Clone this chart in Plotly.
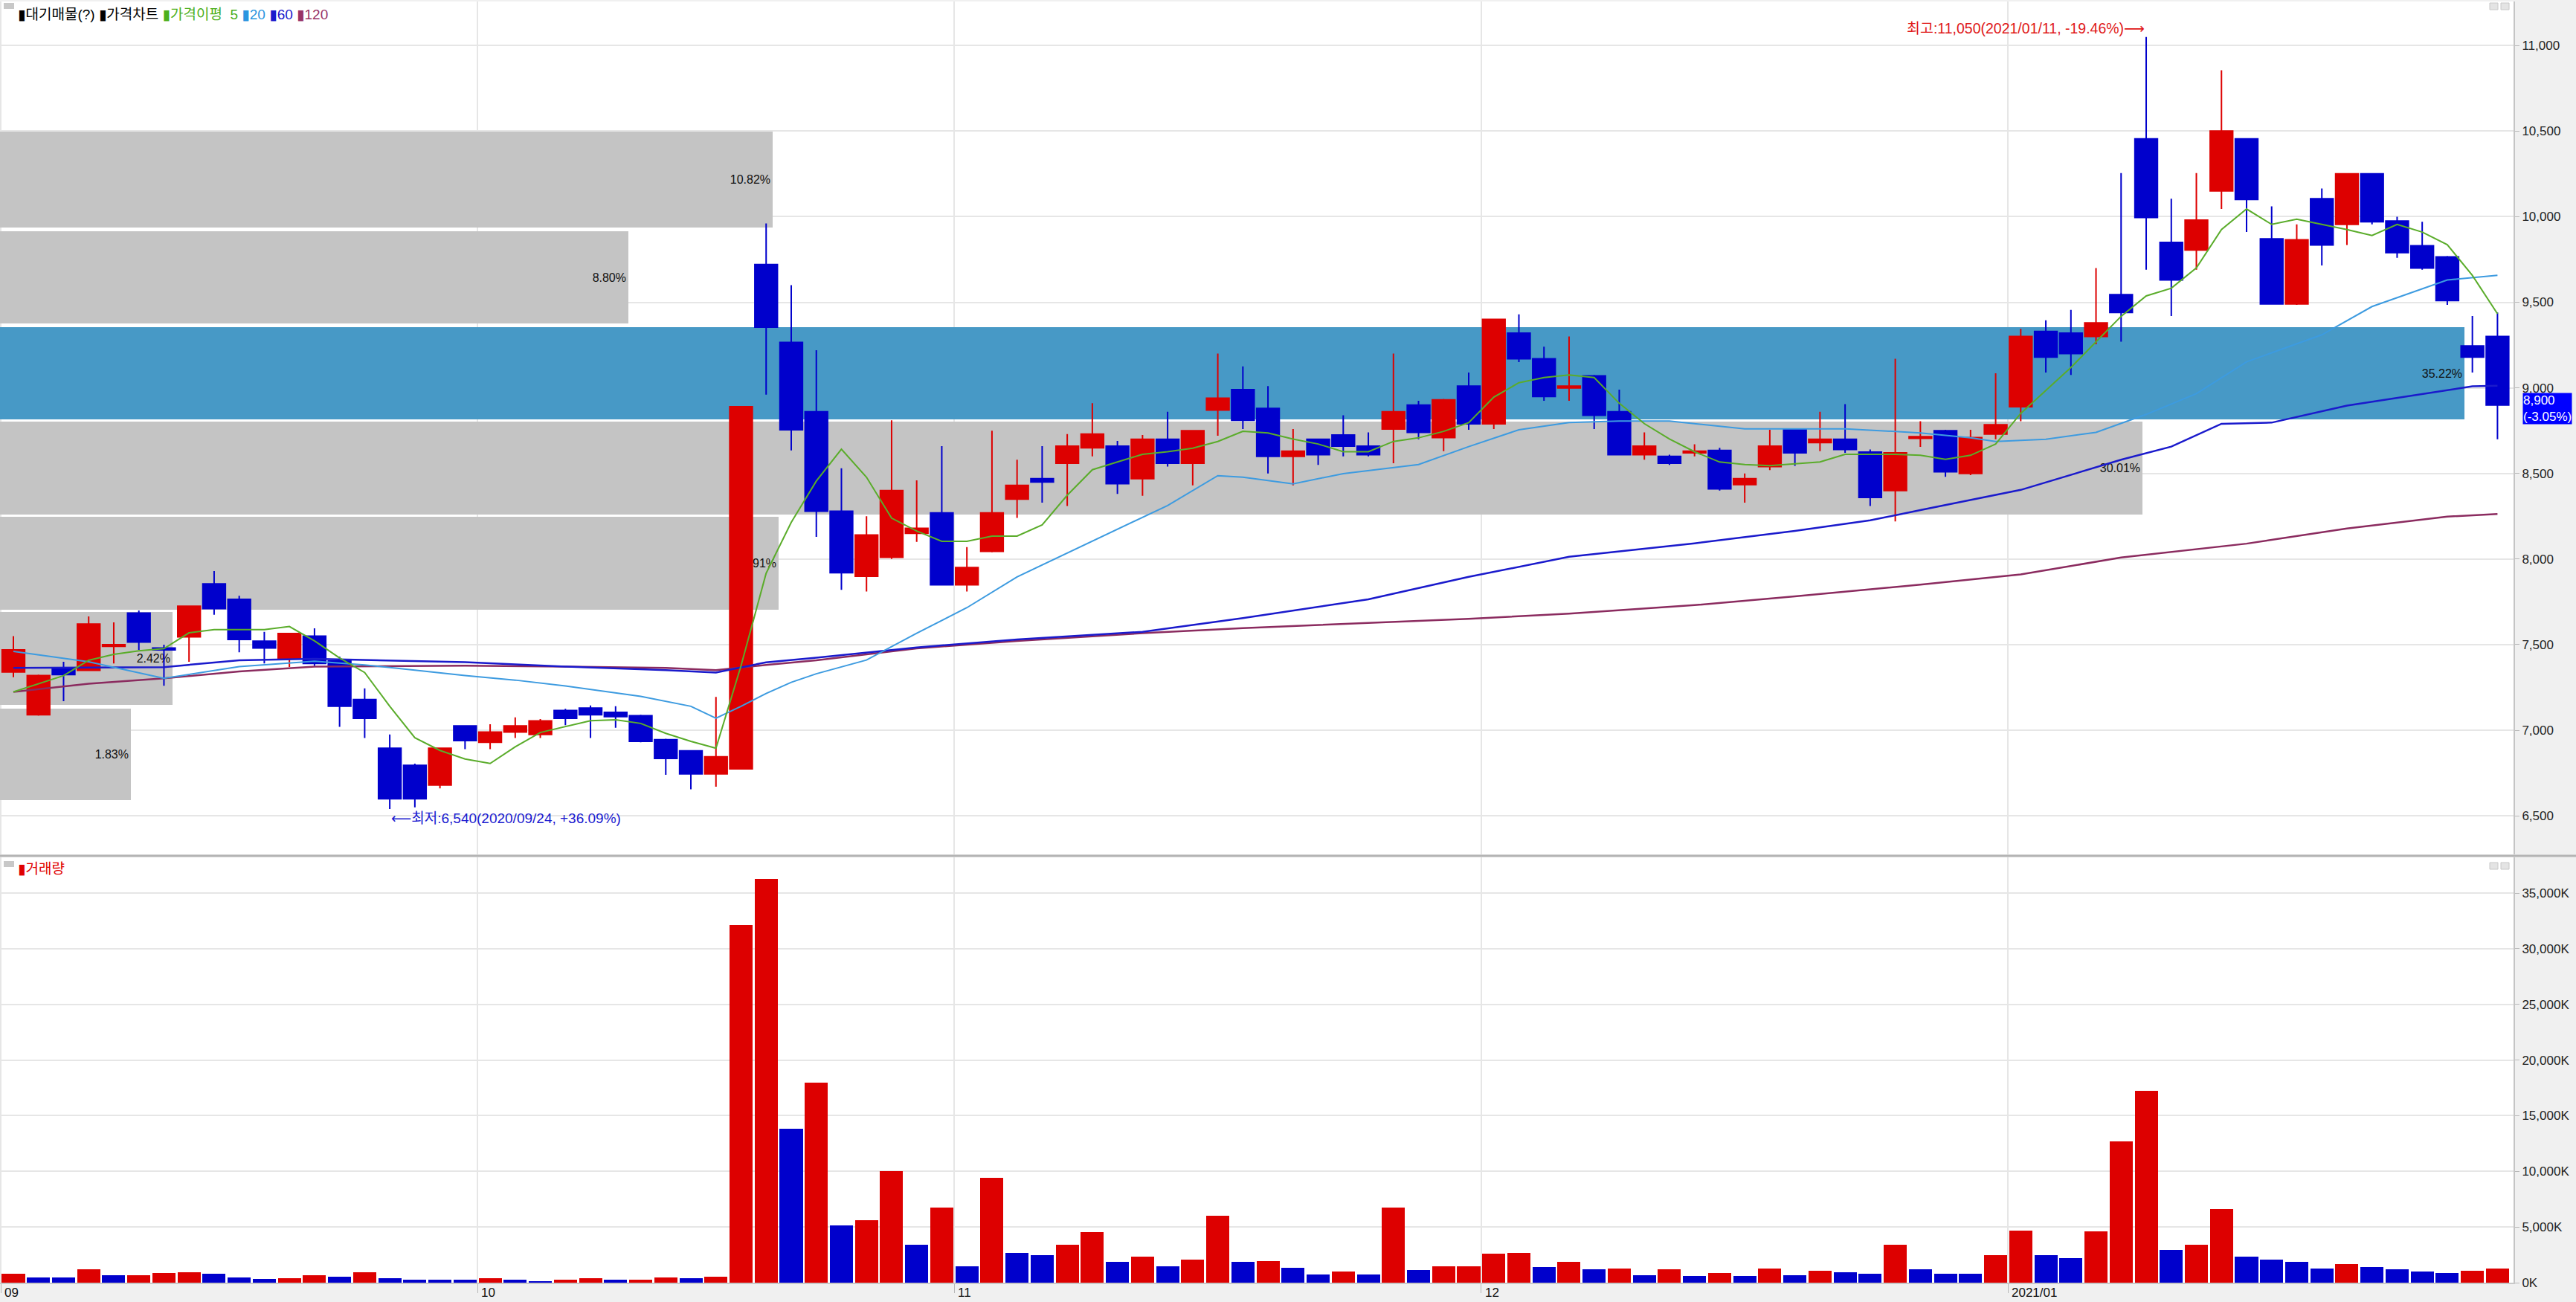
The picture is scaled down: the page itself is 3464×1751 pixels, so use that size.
import plotly.graph_objects as go

# ---------------- data ----------------
opens = [7340, 7090, 7360, 7350, 7490, 7685, 7480, 7545, 7855, 7765,
         7520, 7420, 7550, 7405, 7180, 6895, 6795, 6680, 7025, 6930,
         6990, 6975, 7115, 7130, 7105, 7085, 6945, 6880, 6745, 6775,
         9720, 9265, 8860, 8280, 7900, 8010, 8150, 8270, 7850, 8045,
         8350, 8470, 8560, 8650, 8660, 8470, 8700, 8560, 8870, 8990,
         8880, 8600, 8700, 8725, 8660, 8760, 8900, 8710, 9010, 8790,
         9320, 9170, 9000, 9070, 8860, 8610, 8600, 8620, 8635, 8435,
         8540, 8755, 8680, 8700, 8625, 8400, 8705, 8750, 8500, 8730,
         8890, 9330, 9320, 9300, 9545, 10455, 9850, 9805, 10150, 10455,
         9870, 9490, 10105, 9955, 10250, 9975, 9830, 9765, 9245, 9300]
highs = [7550, 7325, 7400, 7665, 7630, 7700, 7500, 7725, 7930, 7785,
         7575, 7565, 7595, 7430, 7245, 6975, 6805, 6895, 7025, 7035,
         7075, 7065, 7125, 7145, 7140, 7090, 6950, 6880, 7195, 8890,
         9960, 9600, 9220, 8530, 8250, 8810, 8460, 8660, 8070, 8750,
         8580, 8660, 8730, 8910, 8690, 8725, 8860, 8750, 9200, 9125,
         9010, 8760, 8700, 8840, 8740, 9200, 8925, 8935, 9090, 9400,
         9430, 9240, 9300, 9075, 8990, 8740, 8610, 8670, 8650, 8500,
         8755, 8755, 8860, 8905, 8640, 9170, 8805, 8755, 8755, 9085,
         9345, 9395, 9455, 9700, 10255, 11050, 10105, 10255, 10855, 10455,
         10060, 9955, 10165, 10255, 10255, 10000, 9970, 9770, 9420, 9440]
lows = [7310, 7085, 7170, 7350, 7390, 7470, 7260, 7400, 7675, 7455,
        7390, 7370, 7375, 7020, 6955, 6540, 6550, 6660, 6890, 6890,
        6955, 6955, 7030, 6955, 7015, 6930, 6740, 6655, 6670, 6775,
        8960, 8635, 8130, 7820, 7810, 8000, 8100, 7850, 7810, 8040,
        8240, 8330, 8310, 8600, 8380, 8370, 8540, 8430, 8720, 8760,
        8500, 8430, 8550, 8600, 8600, 8560, 8700, 8630, 8755, 8760,
        9150, 8925, 8925, 8760, 8610, 8580, 8550, 8600, 8400, 8330,
        8520, 8545, 8630, 8620, 8310, 8220, 8655, 8480, 8490, 8700,
        8805, 9090, 9075, 9255, 9270, 9690, 9420, 9690, 10045, 9910,
        9490, 9485, 9715, 9835, 9955, 9760, 9690, 9485, 9090, 8700]
closes = [7470, 7320, 7325, 7620, 7500, 7515, 7470, 7725, 7710, 7530,
          7480, 7565, 7390, 7140, 7070, 6600, 6600, 6895, 6940, 6990,
          7025, 7055, 7070, 7090, 7080, 6935, 6835, 6745, 6845, 8890,
          9355, 8755, 8280, 7920, 8140, 8400, 8180, 7850, 7950, 8270,
          8430, 8450, 8660, 8730, 8440, 8700, 8560, 8750, 8940, 8810,
          8600, 8630, 8610, 8660, 8610, 8860, 8740, 8930, 8790, 9400,
          9170, 8950, 9010, 8840, 8610, 8660, 8560, 8630, 8410, 8470,
          8660, 8620, 8700, 8640, 8360, 8620, 8715, 8510, 8710, 8785,
          9300, 9180, 9200, 9380, 9440, 9995, 9630, 9980, 10500, 10100,
          9490, 9865, 9835, 10250, 9970, 9790, 9700, 9510, 9180, 8900]
volumes_k = [781, 447, 440, 1180, 668, 675, 850, 960, 780, 447,
             334, 380, 668, 557, 957, 380, 267, 260, 250, 380,
             267, 156, 267, 380, 267, 300, 447, 380, 557, 32150,
             36285, 13855, 17990, 5150, 5590, 10020, 3380, 6775, 1460, 9425,
             2640, 2500, 3380, 4555, 1900, 2345, 1460, 2050, 6030, 1900,
             1950, 1315, 720, 1015, 720, 6775, 1150, 1450, 1500, 2600,
             2700, 1400, 1900, 1180, 1270, 668, 1180, 600, 870, 600,
             1270, 668, 1050, 957, 780, 3380, 1180, 780, 770, 2500,
             4700, 2500, 2200, 4600, 12670, 17250, 2940, 3380, 6625, 2345,
             2050, 1900, 1270, 1670, 1400, 1180, 1000, 890, 1050, 1270]

month_start = [0, 19, 38, 59, 80]
month_labels = ["09", "10", "11", "12", "2021/01"]

ma5_vals = [7224, 7272, 7319, 7409, 7443, 7464, 7477, 7569, 7588, 7588,
            7588, 7606, 7522, 7422, 7337, 7140, 6956, 6882, 6832, 6806,
            6903, 6987, 7022, 7056, 7061, 7040, 6982, 6935, 6895, 7377,
            7917, 8214, 8456, 8642, 8478, 8239, 8164, 8104, 8104, 8134,
            8134, 8200, 8373, 8522, 8567, 8612, 8627, 8648, 8687, 8746,
            8737, 8701, 8672, 8627, 8627, 8687, 8708, 8746, 8797, 8946,
            9030, 9060, 9075, 9060, 8910, 8791, 8701, 8627, 8567, 8552,
            8546, 8558, 8567, 8612, 8612, 8612, 8606, 8582, 8606, 8672,
            8851, 8985, 9119, 9269, 9418, 9537, 9582, 9701, 9925, 10045,
            9955, 9985, 9955, 9925, 9890, 9955, 9910, 9836, 9657, 9433]
ma20_idx = [0, 3, 6, 9, 12, 14, 16, 18, 20, 22, 25, 27, 28, 29, 30, 31, 32, 34, 36, 38,
            40, 43, 46, 48, 49, 51, 53, 56, 58, 60, 62, 64, 66, 69, 73, 76, 78, 79, 81, 83,
            85, 87, 89, 92, 94, 97, 99]
ma20_vals = [7461, 7400, 7303, 7372, 7403, 7382, 7351, 7320, 7293, 7259, 7198, 7140, 7070, 7140,
             7215, 7280, 7330, 7410, 7567, 7716, 7896, 8104, 8313, 8487, 8478, 8439, 8499, 8552,
             8657, 8755, 8797, 8806, 8806, 8761, 8761, 8737, 8708, 8687, 8700, 8740, 8845, 8966,
             9152, 9310, 9475, 9630, 9657]
ma60_idx = [0, 3, 6, 9, 12, 18, 22, 26, 28, 30, 32, 36, 40, 45, 49, 54, 58, 62, 67, 71,
            74, 76, 80, 84, 86, 88, 90, 93, 95, 98, 99]
ma60_vals = [7364, 7367, 7369, 7409, 7417, 7398, 7372, 7351, 7337, 7397, 7424, 7484, 7530, 7575,
             7655, 7765, 7896, 8013, 8092, 8164, 8226, 8286, 8404, 8580, 8657, 8790, 8797, 8896,
             8940, 9009, 9012]
ma120_idx = [0, 3, 6, 9, 12, 18, 22, 26, 28, 30, 32, 36, 40, 45, 49, 54, 58, 62, 67, 71,
             76, 80, 84, 89, 93, 97, 99]
ma120_vals = [7224, 7272, 7303, 7343, 7372, 7377, 7372, 7364, 7351, 7382, 7409, 7478, 7522, 7567,
              7597, 7627, 7651, 7681, 7731, 7782, 7851, 7910, 8009, 8090, 8179, 8248, 8263]

band_high = [10496, 9917, 9356, 8804, 8245, 7693, 7127]
band_low = [9935, 9377, 8817, 8258, 7706, 7146, 6593]
band_pct = [10.82, 8.80, 35.22, 30.01, 10.91, 2.42, 1.83]

high_date = "2021/01/11"
low_date = "2020/09/24"

price_ticks = [6500, 7000, 7500, 8000, 8500, 9000, 9500, 10000, 10500, 11000]
vol_ticks = [0, 5000, 10000, 15000, 20000, 25000, 30000, 35000]

# ---------------- geometry / style ----------------
W, H = 3464, 1751
PL, PR, PT, PB = 0, 3380, 2, 1725
PH = PB - PT
XR = [-0.5335, 99.64]
PCT_IDX = 2.845      # index units per percent of band length
BAR_CAP = 98.22      # longest band stops before the last candles

RED = "#dd0000"
BLUE = "#0000cc"
FONT = "Liberation Sans, Noto Sans CJK KR, DejaVu Sans"


def px_x(x):
    return (x - PL) / (PR - PL)


def px_y(y):
    return (PB - y) / PH


N = len(closes)
idx = list(range(N))

fig = go.Figure()

# volume-profile bands (대기매물)
last_close = closes[-1]
band_colors = ["#4799c6" if lo <= last_close <= hi else "#c4c4c4"
               for lo, hi in zip(band_low, band_high)]
fig.add_trace(go.Bar(
    orientation="h",
    y=[(a + b) / 2 for a, b in zip(band_high, band_low)],
    width=[a - b for a, b in zip(band_high, band_low)],
    x=[min(p * PCT_IDX, BAR_CAP) for p in band_pct],
    base=XR[0],
    marker=dict(color=band_colors, line=dict(width=0)),
    text=[f"{p:.2f}%" for p in band_pct],
    textposition="inside", insidetextanchor="end",
    constraintext="none",
    textfont=dict(family=FONT, size=16, color="#111111"),
    xaxis="x2", yaxis="y", showlegend=False, hoverinfo="skip",
))

# candles
fig.add_trace(go.Candlestick(
    x=idx, open=opens, high=highs, low=lows, close=closes,
    increasing=dict(line=dict(color=RED, width=2), fillcolor=RED),
    decreasing=dict(line=dict(color=BLUE, width=2), fillcolor=BLUE),
    whiskerwidth=0,
    xaxis="x2", yaxis="y", showlegend=False,
))

# moving averages
fig.add_trace(go.Scatter(x=ma120_idx, y=ma120_vals, mode="lines",
                         line=dict(color="#8b2b5f", width=2.5), xaxis="x2", yaxis="y", showlegend=False))
fig.add_trace(go.Scatter(x=ma60_idx, y=ma60_vals, mode="lines",
                         line=dict(color="#1a1acc", width=2.5), xaxis="x2", yaxis="y", showlegend=False))
fig.add_trace(go.Scatter(x=ma20_idx, y=ma20_vals, mode="lines",
                         line=dict(color="#3d9be0", width=2), xaxis="x2", yaxis="y", showlegend=False))
fig.add_trace(go.Scatter(x=idx, y=ma5_vals, mode="lines",
                         line=dict(color="#5aac2a", width=2), xaxis="x2", yaxis="y", showlegend=False))

# volume
vol_colors = [RED if i == 0 or volumes_k[i] > volumes_k[i - 1] else BLUE for i in range(N)]
fig.add_trace(go.Bar(
    x=idx, y=volumes_k, width=0.92,
    marker=dict(color=vol_colors, line=dict(width=0)),
    xaxis="x", yaxis="y2", showlegend=False,
))

tickvals = [m - 0.5 for m in month_start]
grid_c = "#e6e6e6"
axis_font = dict(family=FONT, size=17, color="#222222")

fig.update_layout(
    width=W, height=H,
    margin=dict(l=PL, r=W - PR, t=PT, b=H - PB, autoexpand=False),
    paper_bgcolor="#f0f0f0", plot_bgcolor="#ffffff",
    bargap=0, boxgap=0.1, boxgroupgap=0,
    showlegend=False,
    xaxis=dict(domain=[0, 1], anchor="y2", range=XR, tickvals=tickvals, showticklabels=False,
               showgrid=True, gridcolor=grid_c, gridwidth=2, zeroline=False,
               ticks="outside", ticklen=12, tickcolor="#b8b8b8", automargin=False,
               showline=True, linecolor="#c8c8c8", linewidth=2,
               rangeslider=dict(visible=False)),
    xaxis2=dict(matches="x", anchor="y", range=XR, tickvals=tickvals, showticklabels=False,
                showgrid=True, gridcolor=grid_c, gridwidth=2, zeroline=False, automargin=False,
                rangeslider=dict(visible=False)),
    yaxis=dict(domain=[px_y(1149), 1], anchor="x2", side="right", range=[6275, 11257],
               tickvals=price_ticks, tickformat=",d", tickfont=axis_font,
               ticks="outside", ticklen=6, tickcolor="#b8b8b8", automargin=False,
               showgrid=True, gridcolor=grid_c, gridwidth=2, zeroline=False,
               showline=True, mirror=True, linecolor="#c4c4c4", linewidth=2),
    yaxis2=dict(domain=[0, px_y(1153)], anchor="x", side="right", range=[0, 38210],
                tickvals=vol_ticks, ticktext=[f"{v:,}K" for v in vol_ticks], tickfont=axis_font,
                ticks="outside", ticklen=6, tickcolor="#b8b8b8", automargin=False,
                showgrid=True, gridcolor=grid_c, gridwidth=2, zeroline=False,
                showline=True, mirror=True, linecolor="#c4c4c4", linewidth=2),
    font=dict(family=FONT),
)

# high / low annotations
hi_val = max(highs)
hi_i = highs.index(hi_val)
lo_val = min(lows)
lo_i = lows.index(lo_val)
hi_pct = (last_close / hi_val - 1) * 100
lo_pct = (last_close / lo_val - 1) * 100
prev_pct = (last_close / closes[-2] - 1) * 100

annots = [
    dict(x=hi_i, y=11100, xref="x2", yref="y", xanchor="right", yanchor="middle",
         text=f"최고:{hi_val:,}({high_date}, {hi_pct:.2f}%)⟶", showarrow=False,
         font=dict(family=FONT, size=19.5, color="#e01818")),
    dict(x=lo_i, y=6487, xref="x2", yref="y", xanchor="left", yanchor="middle",
         text=f"⟵최저:{lo_val:,}({low_date}, +{lo_pct:.2f}%)", showarrow=False,
         font=dict(family=FONT, size=19, color="#1a1ad0")),
    dict(x=px_x(3392), y=8878, xref="paper", yref="y", xanchor="left", yanchor="middle",
         text=f"{last_close:,}<br>({prev_pct:.2f}%)", showarrow=False, align="left",
         bgcolor="#0000ff", borderpad=0,
         font=dict(family=FONT, size=17, color="#ffffff")),
    dict(x=px_x(22), y=px_y(19), xref="paper", yref="paper", xanchor="left", yanchor="middle",
         showarrow=False, font=dict(family=FONT, size=19),
         text=("<span style='color:#000000'>▮대기매물(?) ▮가격차트</span> "
               "<span style='color:#4caf1c'>▮가격이평  5</span> "
               "<span style='color:#2a95e0'>▮20</span> "
               "<span style='color:#1a1acc'>▮60</span> "
               "<span style='color:#993366'>▮120</span>")),
    dict(x=px_x(22), y=px_y(1168), xref="paper", yref="paper", xanchor="left", yanchor="middle",
         showarrow=False, font=dict(family=FONT, size=19, color="#e00000"),
         text="▮거래량"),
]
# month labels on the bottom axis (left-aligned, right of each tick)
for tv, lab in zip(tickvals, month_labels):
    annots.append(dict(x=tv, y=0, xref="x", yref="paper", xanchor="left", yanchor="top",
                       xshift=3, yshift=-2, text=lab, showarrow=False,
                       font=dict(family=FONT, size=17, color="#111111")))
fig.update_layout(annotations=annots)

shapes = [
    # separator between panels
    dict(type="line", xref="paper", yref="paper", x0=0, x1=W / PR, y0=px_y(1151), y1=px_y(1151),
         line=dict(color="#b4b4b4", width=3)),
    # small window boxes
    dict(type="rect", xref="paper", yref="paper", x0=px_x(5), x1=px_x(19), y0=px_y(12), y1=px_y(4),
         fillcolor="#c8c8c8", line=dict(width=0)),
    dict(type="rect", xref="paper", yref="paper", x0=px_x(5), x1=px_x(19), y0=px_y(1166), y1=px_y(1158),
         fillcolor="#c8c8c8", line=dict(width=0)),
]
for y0 in (4, 1160):
    for x0 in (3348, 3363):
        shapes.append(dict(type="rect", xref="paper", yref="paper",
                           x0=px_x(x0), x1=px_x(x0 + 11), y0=px_y(y0 + 9), y1=px_y(y0),
                           fillcolor="#e4e4e4", line=dict(color="#c8c8c8", width=1)))
fig.update_layout(shapes=shapes)

fig.write_html("out.html",
               config={"displayModeBar": False},
               post_script="document.body.style.margin='0';document.body.style.padding='0';"
                           "document.body.style.overflow='hidden';")
